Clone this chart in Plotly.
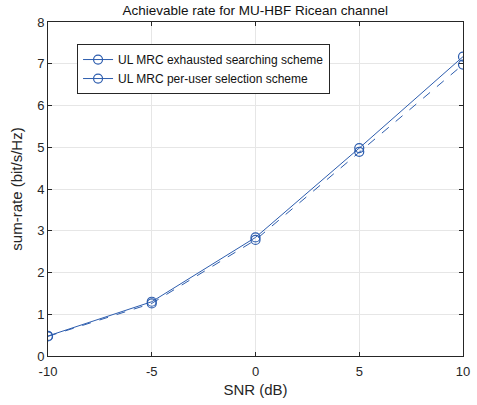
import plotly.graph_objects as go

snr = [-10, -5, 0, 5, 10]
snr_labels = ["-10", "-5", "0", "5", "10"]
exhaustive = [0.48, 1.30, 2.84, 4.98, 7.17]
per_user = [0.47, 1.26, 2.78, 4.89, 6.98]
name1 = "UL MRC exhausted searching scheme"
name2 = "UL MRC per-user selection scheme"
title = "Achievable rate for MU-HBF Ricean channel"

blue = "#2D5DAE"
axcol = "#262626"
fnt = "Liberation Sans, Arial, sans-serif"

fig = go.Figure()
fig.add_trace(go.Scatter(x=snr, y=exhaustive, mode="lines+markers", name=name1,
                         line=dict(color=blue, width=1),
                         marker=dict(symbol="circle-open", size=9, color=blue, line=dict(width=1.2))))
fig.add_trace(go.Scatter(x=snr, y=per_user, mode="lines+markers", name=name2, showlegend=False,
                         line=dict(color=blue, width=1, dash="dash"),
                         marker=dict(symbol="circle-open", size=9, color=blue, line=dict(width=1.2))))
# legend entry (MATLAB legend shows solid line)
fig.add_trace(go.Scatter(x=[None], y=[None], mode="lines+markers", name=name2,
                         line=dict(color=blue, width=1),
                         marker=dict(symbol="circle-open", size=9, color=blue, line=dict(width=1.2))))

axis_common = dict(showline=True, linecolor=axcol, linewidth=1, mirror="ticks",
                   ticks="inside", ticklen=4, tickcolor=axcol, automargin=False,
                   showgrid=True, gridcolor="#E6E6E6", gridwidth=1, zeroline=False,
                   tickfont=dict(family=fnt, size=13, color=axcol),
                   title_font=dict(family=fnt, size=15, color=axcol))

fig.update_layout(
    width=477, height=405,
    margin=dict(l=48, r=14, t=22, b=49, autoexpand=False),
    paper_bgcolor="white", plot_bgcolor="white",
    title=dict(text=title, x=0.535, xanchor="center", xref="container", y=0.975, yref="container", yanchor="middle",
               font=dict(family=fnt, size=13.5, color="#111111"), automargin=False),
    xaxis=dict(range=[-10, 10], tickvals=snr, ticktext=snr_labels, ticklabelstandoff=3,
               title=dict(text="SNR (dB)", standoff=6), **axis_common),
    yaxis=dict(range=[0, 8], tickvals=list(range(0, 9)), title=dict(text="sum-rate (bit/s/Hz)", standoff=10), **axis_common),
    legend=dict(x=0.07, y=0.934, xanchor="left", yanchor="top", bgcolor="white",
                bordercolor=axcol, borderwidth=1, font=dict(family=fnt, size=12, color="#111111"),
                tracegroupgap=0, itemwidth=30),
    showlegend=True,
)

fig.write_html("out.html", config={"displayModeBar": False},
               post_script="document.body.style.margin='0px';")
